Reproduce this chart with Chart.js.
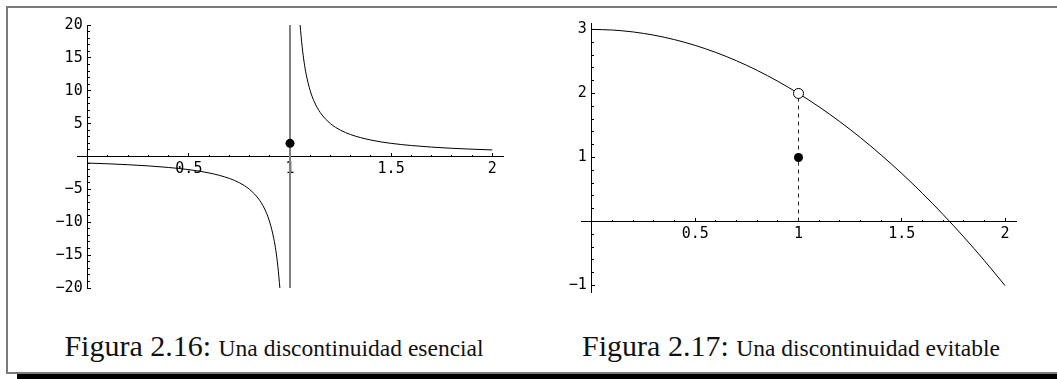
<!DOCTYPE html>
<html><head><meta charset="utf-8">
<script src="https://cdn.jsdelivr.net/npm/chart.js@4/dist/chart.umd.min.js"></script>
<style>
html,body{margin:0;padding:0;background:#fff;width:1057px;height:379px;overflow:hidden;position:relative;}
#frame{position:absolute;left:6px;top:6px;width:1100px;height:364px;border-left:2px solid #7a7a7a;border-top:2px solid #7a7a7a;border-bottom:2px solid #7a7a7a;}
#shadow{position:absolute;left:17px;top:374px;width:1100px;height:8px;background:#000;}
canvas{position:absolute;top:0;}
#c1{left:0;}
#c2{left:530px;}
.cap{position:absolute;top:331px;white-space:nowrap;font-family:"Liberation Serif","Times New Roman",serif;color:#111;text-align:center;font-size:30px;line-height:30px;}
.cap .small{font-size:23.5px;}
#cap1{left:0;width:548px;}
#cap2{left:530px;width:522px;}
</style></head>
<body>
<div id="frame"></div>
<div id="shadow"></div>
<canvas id="c1" width="530" height="320"></canvas>
<canvas id="c2" width="527" height="320"></canvas>
<div class="cap" id="cap1"><span class="big">Figura 2.16:</span> <span class="small">Una discontinuidad esencial</span></div>
<div class="cap" id="cap2"><span class="big">Figura 2.17:</span> <span class="small">Una discontinuidad evitable</span></div>
<script>
// ---- data ----
// Figura 2.16 : left branch and right branch of the curve
const leftBranchX = [0, 0.1, 0.2, 0.3, 0.4, 0.5, 0.6, 0.7, 0.75, 0.8, 0.85, 0.88, 0.9, 0.92, 0.93, 0.94, 0.95];
const leftBranchY = [-1, -1.11, -1.25, -1.43, -1.67, -2, -2.5, -3.33, -4, -5, -6.67, -8.33, -10, -12.5, -14.3, -16.7, -20];
const rightBranchX = [1.05, 1.06, 1.07, 1.08, 1.1, 1.12, 1.15, 1.2, 1.25, 1.3, 1.4, 1.5, 1.6, 1.7, 1.8, 1.9, 2];
const rightBranchY = [20, 16.7, 14.3, 12.5, 10, 8.33, 6.67, 5, 4, 3.33, 2.5, 2, 1.67, 1.43, 1.25, 1.11, 1];
const asymptoteX = [1, 1];
const asymptoteY = [-20, 20];
const dot16 = {x: 1, y: 2};

// Figura 2.17 : parabola, hole and isolated point
const parabolaX = [0, 0.1, 0.2, 0.3, 0.4, 0.5, 0.6, 0.7, 0.8, 0.9, 1, 1.1, 1.2, 1.3, 1.4, 1.5, 1.6, 1.7, 1.8, 1.9, 2];
const parabolaY = [3, 2.99, 2.96, 2.91, 2.84, 2.75, 2.64, 2.51, 2.36, 2.19, 2, 1.79, 1.56, 1.31, 1.04, 0.75, 0.44, 0.11, -0.24, -0.61, -1];
const dashX = [1, 1];
const dashY = [0, 2];
const hole17 = {x: 1, y: 2};
const dot17 = {x: 1, y: 1};

// ---- ticks ----
const xMajorTicks = [0.5, 1, 1.5, 2];
const xMajorLabels = ['0.5', '1', '1.5', '2'];
const xMinorTicks = [0.1, 0.2, 0.3, 0.4, 0.6, 0.7, 0.8, 0.9, 1.1, 1.2, 1.3, 1.4, 1.6, 1.7, 1.8, 1.9];
const y16MajorTicks = [-20, -15, -10, -5, 5, 10, 15, 20];
const y16MajorLabels = ['\u221220', '\u221215', '\u221210', '\u22125', '5', '10', '15', '20'];
const y16MinorTicks = [-19,-18,-17,-16,-14,-13,-12,-11,-9,-8,-7,-6,-4,-3,-2,-1,1,2,3,4,6,7,8,9,11,12,13,14,16,17,18,19];
const y17MajorTicks = [-1, 1, 2, 3];
const y17MajorLabels = ['\u22121', '1', '2', '3'];
const y17MinorTicks = [-0.8,-0.6,-0.4,-0.2,0.2,0.4,0.6,0.8,1.2,1.4,1.6,1.8,2.2,2.4,2.6,2.8];

const zip = (xs, ys) => xs.map((x, i) => ({x: x, y: ys[i]}));
const MONO = '"DejaVu Sans Mono", "Liberation Mono", monospace';
const TICKFONT = {family: MONO, size: 15};

// axis line + tick marks (optionally with labels)
function tickAxis(axis, min, max, pos, ticks, len, border, labels, pad) {
  return {
    type: 'linear', axis: axis, min: min, max: max, position: pos,
    afterBuildTicks: s => { s.ticks = ticks.map(v => ({value: v})); },
    ticks: labels ? {autoSkip: false, maxRotation: 0, padding: pad, color: '#000', font: TICKFONT,
                     callback: (v, i) => labels[i]}
                  : {display: false, autoSkip: false},
    grid: {drawOnChartArea: false, drawTicks: true, tickLength: len, tickColor: '#000', tickWidth: 1},
    border: {display: border, color: '#000', width: 1}
  };
}
// labels only (used for the vertical axis, set a few pixels left of the axis line)
function labelAxis(axis, min, max, pos, ticks, labels) {
  return {
    type: 'linear', axis: axis, min: min, max: max, position: pos,
    afterBuildTicks: s => { s.ticks = ticks.map(v => ({value: v})); },
    ticks: {autoSkip: false, padding: 0, color: '#000', font: TICKFONT, callback: (v, i) => labels[i]},
    grid: {display: false, drawTicks: false},
    border: {display: false}
  };
}
const common = {
  responsive: false, animation: false, devicePixelRatio: 1, events: [],
  plugins: {legend: {display: false}, tooltip: {enabled: false}}
};
const XMIN = -0.053, XMAX = 2.053, LABEL_SHIFT = -0.025;

new Chart(document.getElementById('c1'), {
  type: 'line',
  data: {datasets: [
    {data: [dot16], showLine: false, pointRadius: 4.5, pointBackgroundColor: '#000', pointBorderWidth: 0},
    {data: zip(leftBranchX, leftBranchY), borderColor: '#000', borderWidth: 1, pointRadius: 0, cubicInterpolationMode: 'monotone'},
    {data: zip(rightBranchX, rightBranchY), borderColor: '#000', borderWidth: 1, pointRadius: 0, cubicInterpolationMode: 'monotone'},
    {data: zip(asymptoteX, asymptoteY), borderColor: '#808080', borderWidth: 2, pointRadius: 0}
  ]},
  options: Object.assign({}, common, {
    layout: {padding: {left: 77, right: 27, top: 25, bottom: 32}},
    scales: {
      x: tickAxis('x', XMIN, XMAX, {y: 0}, xMajorTicks, -4, true, xMajorLabels, 7.5),
      xm: tickAxis('x', XMIN, XMAX, {y: 0}, xMinorTicks, -2, false),
      y: tickAxis('y', -20, 20, {x: 0}, y16MajorTicks, -4, true),
      ym: tickAxis('y', -20, 20, {x: 0}, y16MinorTicks, -2, false),
      yl: labelAxis('y', -20, 20, {x: LABEL_SHIFT}, y16MajorTicks, y16MajorLabels)
    }
  })
});

new Chart(document.getElementById('c2'), {
  type: 'line',
  data: {datasets: [
    {data: [hole17], showLine: false, pointRadius: 5, pointBackgroundColor: '#fff', pointBorderColor: '#000', pointBorderWidth: 1},
    {data: [dot17], showLine: false, pointRadius: 4.5, pointBackgroundColor: '#000', pointBorderWidth: 0},
    {data: zip(dashX, dashY), borderColor: '#222', borderWidth: 1, borderDash: [4, 4], pointRadius: 0},
    {data: zip(parabolaX, parabolaY), borderColor: '#000', borderWidth: 1, pointRadius: 0, cubicInterpolationMode: 'monotone'}
  ]},
  options: Object.assign({}, common, {
    layout: {padding: {left: 51, right: 41, top: 23, bottom: 28}},
    scales: {
      x: tickAxis('x', XMIN, XMAX, {y: 0}, xMajorTicks, -4, true, xMajorLabels, 7.5),
      xm: tickAxis('x', XMIN, XMAX, {y: 0}, xMinorTicks, -2, false),
      y: tickAxis('y', -1.1, 3.1, {x: 0}, y17MajorTicks, -4, true),
      ym: tickAxis('y', -1.1, 3.1, {x: 0}, y17MinorTicks, -2, false),
      yl: labelAxis('y', -1.1, 3.1, {x: LABEL_SHIFT}, y17MajorTicks, y17MajorLabels)
    }
  })
});
</script>
</body></html>
